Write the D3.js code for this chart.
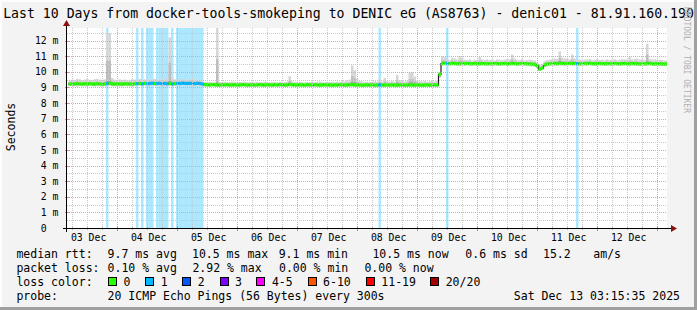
<!DOCTYPE html>
<html><head><meta charset="utf-8">
<script src="https://cdn.jsdelivr.net/npm/d3@7"></script>
<style>
html,body{margin:0;padding:0;background:#f3f3f3;}
svg{display:block;}
text{font-family:"DejaVu Sans Mono",monospace;white-space:pre;}
</style></head><body>
<svg id="c" width="697" height="310"></svg>
<script>
// ---------------- data ----------------
const titleText = "Last 10 Days from docker-tools-smokeping to DENIC eG (AS8763) - denic01 - 81.91.160.190";
const yAxisTitle = "Seconds";
const watermark = "RRDTOOL / TOBI OETIKER";
const startTime = new Date(2025, 11, 3, 4, 4);
const endTime = new Date(2025, 11, 13, 4, 4);
const firstSample = new Date(2025, 11, 3, 4, 40); // hourly consolidated samples
const dayLabelDates = [3,4,5,6,7,8,9,10,11,12];
const yTicks = [0,1,2,3,4,5,6,7,8,9,10,11,12];
const yTickLabels = ["0  ","1 m","2 m","3 m","4 m","5 m","6 m","7 m","8 m","9 m","10 m","11 m","12 m"];

// median rtt (ms), one value per hour
const median = [
 9.21,9.23,9.22,9.24,9.22,9.21,9.23,9.22,9.24,9.22,9.21,9.23,9.22,9.20,9.22,9.24,9.26,9.22,9.21,9.23,9.22,9.21,9.23,9.22,
 9.22,9.21,9.23,9.24,9.25,9.22,9.26,9.24,9.25,9.27,9.24,9.25,9.26,9.24,9.25,9.23,9.25,9.22,9.24,9.26,9.25,9.27,9.26,9.25,
 9.26,9.25,9.24,9.26,9.25,9.22,9.18,9.17,9.16,9.18,9.17,9.16,9.15,9.17,9.16,9.18,9.15,9.16,9.17,9.15,9.16,9.18,9.17,9.15,
 9.16,9.17,9.15,9.16,9.18,9.16,9.15,9.17,9.16,9.15,9.17,9.16,9.18,9.17,9.15,9.16,9.19,9.17,9.16,9.15,9.17,9.16,9.15,9.17,
 9.16,9.15,9.17,9.16,9.15,9.16,9.17,9.15,9.16,9.14,9.16,9.15,9.17,9.16,9.15,9.16,9.17,9.18,9.16,9.15,9.16,9.14,9.15,9.16,
 9.15,9.16,9.14,9.15,9.16,9.15,9.14,9.16,9.15,9.16,9.15,9.14,9.16,9.15,9.14,9.15,9.16,9.15,9.14,9.16,9.15,9.14,9.15,9.16,
 9.15,9.14,9.16,9.15,9.84,10.52,10.55,10.53,10.52,10.54,10.53,10.52,10.51,10.53,10.52,10.54,10.52,10.51,10.53,10.52,10.51,10.53,10.52,10.51,
 10.52,10.51,10.53,10.52,10.51,10.52,10.53,10.51,10.52,10.53,10.52,10.51,10.52,10.53,10.52,10.51,10.50,10.48,10.47,10.38,10.17,10.24,10.43,10.49,
 10.51,10.52,10.53,10.52,10.54,10.53,10.52,10.53,10.54,10.52,10.53,10.52,10.51,10.52,10.53,10.52,10.54,10.52,10.51,10.52,10.53,10.52,10.51,10.52,
 10.52,10.51,10.53,10.52,10.51,10.52,10.53,10.52,10.51,10.53,10.52,10.51,10.50,10.52,10.51,10.52,10.53,10.51,10.50,10.52,10.51,10.50,10.49,10.50
];
// fastest ping per hour (ms)
const smokeLow = [
 9.08,9.06,9.07,9.05,9.08,9.06,9.07,9.05,9.08,9.06,9.05,9.07,9.06,9.04,9.06,9.08,9.10,9.06,9.05,9.07,9.06,9.05,9.07,9.06,
 9.06,9.05,9.07,9.08,9.09,9.06,9.10,9.08,9.09,9.11,9.08,9.09,9.10,9.08,9.09,9.07,9.09,9.06,9.08,9.10,9.09,9.11,9.10,9.09,
 9.10,9.09,9.08,9.10,9.09,9.06,9.04,9.03,9.02,9.04,9.03,9.02,9.01,9.03,9.02,9.04,9.01,9.02,9.03,9.01,9.02,9.04,9.03,9.01,
 9.02,9.03,9.01,9.02,9.04,9.02,9.01,9.03,9.02,9.01,9.03,9.02,9.04,9.03,9.01,9.02,9.05,9.03,9.02,9.01,9.03,9.02,9.01,9.03,
 9.02,9.01,9.03,9.02,9.01,9.02,9.03,9.01,9.02,9.00,9.02,9.01,9.03,9.02,9.01,9.02,9.03,9.04,9.02,9.01,9.02,9.00,9.01,9.02,
 9.01,9.02,9.00,9.01,9.02,9.01,9.00,9.02,9.01,9.02,9.01,9.00,9.02,9.01,9.00,9.01,9.02,9.01,9.00,9.02,9.01,9.00,9.01,9.02,
 9.01,9.00,9.02,9.01,9.60,10.38,10.40,10.39,10.38,10.40,10.39,10.38,10.37,10.39,10.38,10.40,10.38,10.37,10.39,10.38,10.37,10.39,10.38,10.37,
 10.38,10.37,10.39,10.38,10.37,10.38,10.39,10.37,10.38,10.39,10.38,10.37,10.38,10.39,10.38,10.37,10.36,10.34,10.33,10.24,10.05,10.10,10.30,10.35,
 10.37,10.38,10.39,10.38,10.40,10.39,10.38,10.39,10.40,10.38,10.39,10.38,10.37,10.38,10.39,10.38,10.40,10.38,10.37,10.38,10.39,10.38,10.37,10.38,
 10.38,10.37,10.39,10.38,10.37,10.38,10.39,10.38,10.37,10.39,10.38,10.37,10.36,10.38,10.37,10.38,10.39,10.37,10.36,10.38,10.37,10.36,10.35,10.36
];
// slowest ping per hour (ms)
const smokeHigh = [
 9.45,9.50,9.48,9.55,9.52,9.47,9.50,9.53,9.49,9.46,9.52,9.55,9.50,9.48,9.51,12.50,12.45,9.60,9.50,9.48,9.52,9.47,9.50,9.46,
 9.48,9.52,9.50,9.47,9.55,9.50,9.52,9.48,9.53,9.50,9.55,9.52,9.50,9.48,9.54,9.56,12.20,9.60,9.52,9.50,9.48,9.53,9.50,9.52,
 9.50,9.55,9.52,9.48,9.50,9.40,9.35,9.32,9.36,9.33,9.35,12.80,9.34,9.32,9.36,9.33,9.35,9.38,9.34,9.32,9.35,9.33,9.36,9.34,
 9.33,9.35,9.32,9.36,9.34,9.33,9.38,9.35,9.32,9.34,9.36,9.33,9.35,9.32,9.34,9.36,9.72,9.40,9.35,9.33,9.36,9.34,9.32,9.35,
 9.34,9.36,9.33,9.35,9.38,9.34,9.32,9.36,9.34,9.35,9.33,9.37,9.35,9.40,9.38,9.45,9.50,10.40,10.10,9.55,9.42,9.38,9.35,9.36,
 9.34,9.36,9.40,9.35,9.55,9.38,9.60,9.40,9.38,9.42,9.36,9.80,9.45,9.40,9.38,9.42,9.95,9.98,9.70,9.45,9.40,9.38,9.42,9.36,
 9.40,9.45,9.38,9.42,9.95,11.00,10.95,10.80,10.75,10.90,10.85,10.80,11.00,10.90,10.78,10.75,10.80,10.72,10.78,10.75,10.95,10.80,10.76,10.80,
 10.75,10.78,10.72,10.80,10.76,10.75,10.78,10.80,10.82,11.10,10.85,10.78,10.75,10.80,10.72,10.76,10.78,10.75,10.72,10.60,10.45,10.50,10.70,10.75,
 10.78,10.80,10.85,10.82,11.30,10.90,10.85,10.82,10.80,11.10,10.85,10.78,10.80,10.76,10.78,10.80,10.82,10.75,10.78,10.80,10.76,10.78,10.75,10.80,
 10.76,10.78,10.80,10.75,10.78,10.82,10.80,10.78,10.95,10.80,10.82,10.85,10.78,10.80,10.76,11.80,10.82,10.78,10.80,10.75,10.78,10.76,10.72,10.75
];
// hours (sample index) with packet loss and the number of lost pings
const lossHours  = [15,27,29,31,32,33,35,36,37,38,39,41,43,44,45,46,47,48,49,50,51,52,53,124,151,203];
const lossPings  = [ 1, 1, 1, 1, 1, 1, 1, 1, 1, 1, 1, 1, 1, 1, 1, 1, 1, 1, 1, 1, 1, 1, 1,  1,  1,  1];

const lossColorLabels = ["0","1","2","3","4-5","6-10","11-19","20/20"];
const lossColorValues = ["#26ff00","#00b8ff","#0059ff","#7e00ff","#ff00ff","#ff5500","#ff0000","#a00000"];
const lossColorMin    = [0,1,2,3,4,6,11,20];

const statsRtt  = ["median rtt:","9.7 ms avg","10.5 ms max","9.1 ms min","10.5 ms now","0.6 ms sd","15.2","am/s"];
const statsLoss = ["packet loss:","0.10 % avg","2.92 % max","0.00 % min","0.00 % now"];
const lossColorTitle = "loss color:";
const probeLabel = "probe:";
const probeText = "20 ICMP Echo Pings (56 Bytes) every 300s";
const stampText = "Sat Dec 13 03:15:35 2025";

// ---------------- drawing ----------------
const W = 697, H = 310;
const L = 67, R = 667, T = 28, B = 228;
const svg = d3.select("#c");
const x = d3.scaleTime().domain([startTime, endTime]).range([L, R]);
const y = d3.scaleLinear().domain([0, 12.8]).range([B, T]);
const HOUR = 3600e3;
const t0 = k => new Date(firstSample.getTime() + k * HOUR);
const t1 = k => new Date(firstSample.getTime() + (k + 1) * HOUR);

function lossColor(n){
  let c = lossColorValues[0];
  lossColorMin.forEach((m,i)=>{ if (n >= m) c = lossColorValues[i]; });
  return c;
}
const lossMap = new Map(lossHours.map((h,i)=>[h, lossPings[i]]));

// background + frame
svg.append("rect").attr("width",W).attr("height",H).attr("fill","#f3f3f3");
svg.append("rect").attr("x",0).attr("y",0).attr("width",W).attr("height",2).attr("fill","#fdfdfd");
svg.append("rect").attr("x",0).attr("y",0).attr("width",2).attr("height",H).attr("fill","#fdfdfd");
svg.append("rect").attr("x",W-3).attr("y",0).attr("width",3).attr("height",H).attr("fill","#a0a0a0");
svg.append("rect").attr("x",0).attr("y",H-3).attr("width",W).attr("height",3).attr("fill","#a0a0a0");

svg.append("rect").attr("x",L).attr("y",T).attr("width",R-L).attr("height",B-T).attr("fill","#ffffff");

svg.append("defs").append("clipPath").attr("id","plot")
  .append("rect").attr("x",L).attr("y",T).attr("width",R-L).attr("height",B-T);
const plot = svg.append("g").attr("clip-path","url(#plot)");

// loss bands
plot.append("g").selectAll("rect").data(lossHours).join("rect")
  .attr("x", k => x(t0(k))).attr("width", k => x(t1(k)) - x(t0(k)))
  .attr("y", T).attr("height", B - T)
  .attr("fill", (k,i) => lossColor(lossPings[i])).attr("fill-opacity", 0.33);

// smoke
const idx = d3.range(median.length);
const sm = plot.append("g");
sm.selectAll("rect.o").data(idx).join("rect").attr("class","o")
  .attr("x", k => x(t0(k))).attr("width", k => x(t1(k)) - x(t0(k)))
  .attr("y", k => y(smokeHigh[k])).attr("height", k => y(smokeLow[k]) - y(smokeHigh[k]))
  .attr("fill", "#d6d6d6");
sm.selectAll("rect.m").data(idx).join("rect").attr("class","m")
  .attr("x", k => x(t0(k))).attr("width", k => x(t1(k)) - x(t0(k)))
  .attr("y", k => y(median[k] + (smokeHigh[k]-median[k])*0.45))
  .attr("height", k => y(median[k] - (median[k]-smokeLow[k])*0.6) - y(median[k] + (smokeHigh[k]-median[k])*0.45))
  .attr("fill", "#bdbdbd");
sm.selectAll("rect.i").data(idx).join("rect").attr("class","i")
  .attr("x", k => x(t0(k))).attr("width", k => x(t1(k)) - x(t0(k)))
  .attr("y", k => y(median[k] + Math.min((smokeHigh[k]-median[k])*0.2, 0.15)))
  .attr("height", k => y(median[k] - (median[k]-smokeLow[k])*0.3) - y(median[k] + Math.min((smokeHigh[k]-median[k])*0.2, 0.15)))
  .attr("fill", "#9a9a9a");

// grid
const grid = svg.append("g").attr("clip-path","url(#plot)");
const minorV = d3.timeHour.every(6).range(startTime, endTime).filter(d => d.getHours() !== 0);
const majorV = d3.timeDay.range(startTime, endTime);
grid.selectAll("line.mv").data(minorV).join("line").attr("class","mv")
  .attr("x1", d => Math.round(x(d)) + 0.5).attr("x2", d => Math.round(x(d)) + 0.5)
  .attr("y1", T).attr("y2", B).attr("stroke","#c8c8c8").attr("stroke-dasharray","1,1");
grid.selectAll("line.Mv").data(majorV).join("line").attr("class","Mv")
  .attr("x1", d => Math.round(x(d)) + 0.5).attr("x2", d => Math.round(x(d)) + 0.5)
  .attr("y1", T).attr("y2", B).attr("stroke","#e4a4a4").attr("stroke-dasharray","1,1");
const minorH = d3.range(0.5, 12.8, 1);
const majorH = yTicks.filter(v => v > 0);
grid.selectAll("line.mh").data(minorH).join("line").attr("class","mh")
  .attr("y1", d => Math.round(y(d)) + 0.5).attr("y2", d => Math.round(y(d)) + 0.5)
  .attr("x1", L).attr("x2", R).attr("stroke","#c8c8c8").attr("stroke-dasharray","1,1");
grid.selectAll("line.Mh").data(majorH).join("line").attr("class","Mh")
  .attr("y1", d => Math.round(y(d)) + 0.5).attr("y2", d => Math.round(y(d)) + 0.5)
  .attr("x1", L).attr("x2", R).attr("stroke","#e4a4a4").attr("stroke-dasharray","1,1");

// median: thin dark line, then loss-coloured band
const pts = idx.map(k => [x(t0(k)), y(median[k])]);
pts.push([x(t1(median.length-1)), y(median[median.length-1])]);
plot.append("path").attr("d", d3.line().curve(d3.curveStepAfter)(pts))
  .attr("fill","none").attr("stroke","#202020").attr("stroke-width",1.2);
plot.append("g").selectAll("rect").data(idx).join("rect")
  .attr("x", k => x(t0(k))).attr("width", k => x(t1(k)) - x(t0(k)))
  .attr("y", k => y(median[k]) - 1.6).attr("height", 3.2)
  .attr("fill", k => lossColor(lossMap.get(k) || 0));

// axis ticks on the axes
const ticks = svg.append("g");
ticks.selectAll("line.a").data(minorV).join("line")
  .attr("x1", d => Math.round(x(d)) + 0.5).attr("x2", d => Math.round(x(d)) + 0.5)
  .attr("y1", B - 1).attr("y2", B + 2).attr("stroke","#b0b0b0");
ticks.selectAll("line.b").data(majorV).join("line")
  .attr("x1", d => Math.round(x(d)) + 0.5).attr("x2", d => Math.round(x(d)) + 0.5)
  .attr("y1", B - 2).attr("y2", B + 3).attr("stroke","#e08080");
ticks.selectAll("line.c").data(majorH).join("line")
  .attr("y1", d => Math.round(y(d)) + 0.5).attr("y2", d => Math.round(y(d)) + 0.5)
  .attr("x1", L - 2).attr("x2", L + 2).attr("stroke","#e08080");

// axis labels via d3 axes
const noonDates = dayLabelDates.map(d => new Date(2025, 11, d, 12, 30));
const xa = svg.append("g").attr("transform", `translate(0,${B})`)
  .call(d3.axisBottom(x).tickValues(noonDates).tickFormat(d3.timeFormat("%d %b")).tickSize(0).tickPadding(6.5));
xa.select(".domain").remove();
xa.selectAll("text").attr("font-family","DejaVu Sans Mono").attr("font-size","9.8px").attr("fill","#000");

const ya = svg.append("g").attr("transform", `translate(${L},0)`)
  .call(d3.axisLeft(y).tickValues(yTicks).tickFormat((d,i) => yTickLabels[i]).tickSize(0).tickPadding(8.5));
ya.select(".domain").remove();
ya.selectAll("text").attr("font-family","DejaVu Sans Mono").attr("font-size","9.8px").attr("fill","#000")
  .style("white-space","pre");

// axis lines + arrows
svg.append("line").attr("x1", L - 4).attr("x2", R + 5).attr("y1", B + 0.5).attr("y2", B + 0.5).attr("stroke","#000");
svg.append("line").attr("x1", L - 0.5).attr("x2", L - 0.5).attr("y1", B + 4).attr("y2", T - 4).attr("stroke","#000");
svg.append("path").attr("d", `M${R+4},${B-3} L${R+10},${B+0.5} L${R+4},${B+4} Z`).attr("fill","#8b1010");
svg.append("path").attr("d", `M${L-4},${T-2} L${L-0.5},${T-8} L${L+3},${T-2} Z`).attr("fill","#8b1010");

// titles
svg.append("text").attr("x", 348.5).attr("y", 18).attr("text-anchor","middle")
  .attr("font-size","13.2px").attr("fill","#000").text(titleText);
svg.append("text").attr("transform","translate(14.5,127) rotate(-90)").attr("text-anchor","middle")
  .attr("font-size","11.5px").attr("fill","#000").text(yAxisTitle);
svg.append("text").attr("transform","translate(684,7) rotate(90)")
  .attr("font-size","8px").attr("fill","#b0b0b0").text(watermark);

// legend
const lg = svg.append("g").attr("font-size","11.5px").attr("fill","#000");
const rttX = [16.4,107.6,192,278.7,372.4,465.3,543,593.3];
statsRtt.forEach((s,i) => lg.append("text").attr("x", rttX[i]).attr("y", 258).text(s));
const lossX = [16.4,107.6,192.4,279,364.4];
statsLoss.forEach((s,i) => lg.append("text").attr("x", lossX[i]).attr("y", 272).text(s));
lg.append("text").attr("x",16.4).attr("y",286).text(lossColorTitle);
const boxX = [108,145.3,182.2,219.6,256.4,307.6,365.8,430.2];
lossColorLabels.forEach((s,i) => {
  lg.append("rect").attr("x", Math.round(boxX[i]) + 0.5).attr("y", 277.5).attr("width", 8).attr("height", 8)
    .attr("fill", lossColorValues[i]).attr("stroke","#000");
  lg.append("text").attr("x", boxX[i] + 15.5).attr("y", 286).text(s);
});
lg.append("text").attr("x",16.4).attr("y",300).text(probeLabel);
lg.append("text").attr("x",107.6).attr("y",300).text(probeText);
lg.append("text").attr("x",680).attr("y",300).attr("text-anchor","end").text(stampText);
</script>
</body></html>
